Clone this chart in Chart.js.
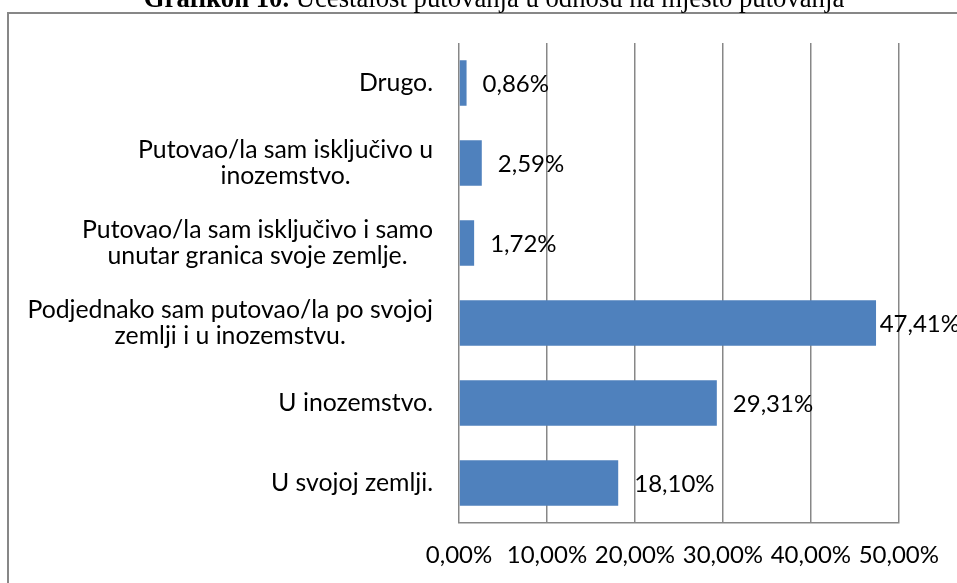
<!DOCTYPE html>
<html>
<head>
<meta charset="utf-8">
<script src="https://cdn.jsdelivr.net/npm/chart.js@4/dist/chart.umd.min.js"></script>
<style>
  html, body { margin: 0; padding: 0; background: #ffffff; }
  #wrap { position: relative; width: 957px; height: 583px; overflow: hidden; }
  #frame { position: absolute; left: 7px; top: 12px; width: 1100px; height: 1100px; border: 2px solid #878787; box-sizing: border-box; }
  #c { position: absolute; left: 0; top: 0; }
</style>
</head>
<body>
<div id="wrap">
  <div id="frame"></div>
  <canvas id="c" width="957" height="583"></canvas>
</div>
<script>
// ---- data ----
const titleBold = "Grafikon 10.";
const titleRest = " Učestalost putovanja u odnosu na mjesto putovanja";
const categories = [
  ["Drugo."],
  ["Putovao/la sam isključivo u", "inozemstvo."],
  ["Putovao/la sam isključivo i samo", "unutar granica svoje zemlje."],
  ["Podjednako sam putovao/la po svojoj", "zemlji i u inozemstvu."],
  ["U inozemstvo."],
  ["U svojoj zemlji."]
];
const values = [0.86, 2.59, 1.72, 47.41, 29.31, 18.10];
const valueLabels = ["0,86%", "2,59%", "1,72%", "47,41%", "29,31%", "18,10%"];
const tickValues = [0, 10, 20, 30, 40, 50];
const tickLabels = ["0,00%", "10,00%", "20,00%", "30,00%", "40,00%", "50,00%"];

const FONT_FAMILY = "Lato, 'Open Sans', sans-serif";
const FONT_SIZE = 24;
const CAT_FONT_SIZE = 24.8;
const TEXT_COLOR = "#000000";
const GRID_COLOR = "#878787";

const titlePlugin = {
  id: 'titlePlugin',
  afterDraw(chart) {
    const ctx = chart.ctx;
    ctx.save();
    ctx.fillStyle = TEXT_COLOR;
    ctx.textBaseline = 'alphabetic';
    ctx.textAlign = 'left';
    const bFont = "bold 26.7px 'Liberation Serif', 'Times New Roman', serif";
    const rFont = "26.7px 'Liberation Serif', 'Times New Roman', serif";
    ctx.font = bFont; const wb = ctx.measureText(titleBold).width;
    ctx.font = rFont; const wr = ctx.measureText(titleRest).width;
    const cx = 494, by = 7;
    let x = cx - (wb + wr) / 2;
    ctx.font = bFont; ctx.fillText(titleBold, x, by);
    ctx.font = rFont; ctx.fillText(titleRest, x + wb, by);
    ctx.restore();
  }
};

const categoryLabelPlugin = {
  id: 'categoryLabels',
  afterDraw(chart) {
    const ctx = chart.ctx;
    const yScale = chart.scales.y;
    ctx.save();
    ctx.font = CAT_FONT_SIZE + "px " + FONT_FAMILY;
    ctx.fillStyle = TEXT_COLOR;
    ctx.textBaseline = 'middle';
    ctx.textAlign = 'center';
    const rightEdge = chart.chartArea.left - 26;
    const lh = 25.5;
    categories.forEach((lines, i) => {
      const yc = yScale.getPixelForValue(i);
      let maxW = 0;
      lines.forEach(l => { maxW = Math.max(maxW, ctx.measureText(l).width); });
      const cx = rightEdge - maxW / 2;
      const y0 = yc - (lines.length - 1) * lh / 2;
      lines.forEach((l, k) => ctx.fillText(l, cx, y0 + k * lh));
    });
    ctx.restore();
  }
};

const valueLabelPlugin = {
  id: 'valueLabels',
  afterDatasetsDraw(chart) {
    const ctx = chart.ctx;
    const meta = chart.getDatasetMeta(0);
    ctx.save();
    ctx.font = FONT_SIZE + "px " + FONT_FAMILY;
    ctx.fillStyle = TEXT_COLOR;
    ctx.textBaseline = 'middle';
    ctx.textAlign = 'left';
    meta.data.forEach((el, i) => {
      const txt = valueLabels[i];
      const w = ctx.measureText(txt).width;
      const x = Math.min(el.x + 16, chart.width - w + 3);
      ctx.fillText(txt, x, el.y + 1);
    });
    ctx.restore();
  }
};

new Chart(document.getElementById('c'), {
  type: 'bar',
  data: {
    labels: categories,
    datasets: [{
      data: values,
      backgroundColor: '#4F81BD',
      borderWidth: 0,
      barPercentage: 0.57,
      categoryPercentage: 1.0
    }]
  },
  options: {
    indexAxis: 'y',
    responsive: false,
    animation: false,
    devicePixelRatio: 1,
    layout: { padding: { top: 43, right: 57, left: 0, bottom: 0 } },
    plugins: { legend: { display: false }, tooltip: { enabled: false }, title: { display: false } },
    scales: {
      x: {
        min: 0, max: 50,
        afterBuildTicks(scale) { scale.ticks = tickValues.map(v => ({ value: v })); },
        afterFit(scale) { scale.height = 60; },
        ticks: {
          padding: 18,
          color: TEXT_COLOR,
          font: { family: FONT_FAMILY, size: FONT_SIZE },
          maxRotation: 0,
          autoSkip: false,
          callback: (v) => tickLabels[tickValues.indexOf(v)]
        },
        grid: { color: GRID_COLOR, lineWidth: 1.5, drawTicks: false },
        border: { display: true, color: GRID_COLOR, width: 1.5 }
      },
      y: {
        afterFit(scale) { scale.width = 459; },
        ticks: { display: false },
        grid: { display: false },
        border: { display: false }
      }
    }
  },
  plugins: [titlePlugin, categoryLabelPlugin, valueLabelPlugin]
});
</script>
</body>
</html>
